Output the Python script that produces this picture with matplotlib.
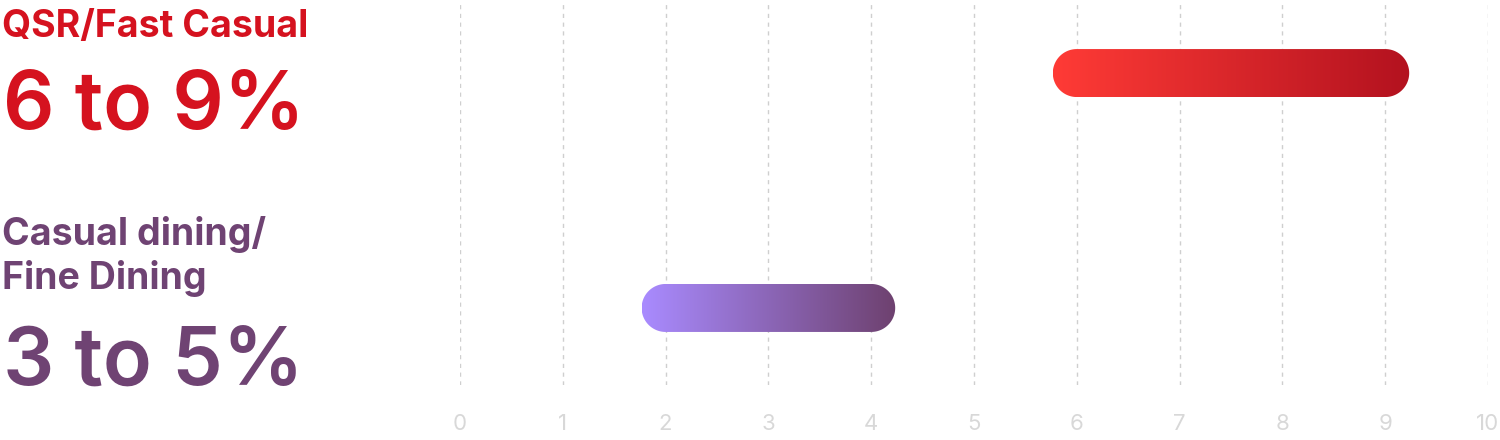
import numpy as np
import matplotlib
matplotlib.use("Agg")
import matplotlib.pyplot as plt
from matplotlib.patches import Polygon
from matplotlib.colors import LinearSegmentedColormap

# Data
segments = ["Casual dining/\nFine Dining", "QSR/Fast Casual"]
range_low = [2, 6]
range_high = [4, 9]
range_text = ["3 to 5%", "6 to 9%"]
ticks = list(range(0, 11))

text_colors = ["#6F4373", "#D5121F"]
grad_colors = [("#A98BFF", "#6E416F"), ("#FF3B36", "#B3121F")]

plt.rcParams["font.family"] = ["Inter", "DejaVu Sans"]

fig = plt.figure(figsize=(15, 4.4), dpi=100)
ax = fig.add_axes([460 / 1500, 1 - 385 / 440, 1028 / 1500, 385 / 440])
ax.set_xlim(0, 10)
ax.set_ylim(-0.328, 1.311)

for s in ax.spines.values():
    s.set_visible(False)
ax.set_yticks([])
ax.set_xticks(ticks)
ax.tick_params(axis="x", length=0, pad=21, labelsize=16, labelcolor="#D8D8D8")
for t in ticks:
    ax.axvline(t, color="#CFCFCF", lw=1, ls=(0, (3, 3.3)), zorder=0)

# pixel scale so the round caps stay circular
fig.canvas.draw()
p0 = ax.transData.transform((0, 0))
p1 = ax.transData.transform((1, 1))
px_x = p1[0] - p0[0]
px_y = p1[1] - p0[1]
bar_h_px = 48
ry = (bar_h_px / 2) / px_y
rx = (bar_h_px / 2) / px_x


def pill(lo, hi, yc):
    a = np.linspace(-np.pi / 2, np.pi / 2, 60)
    right = np.column_stack([hi + rx * np.cos(a), yc + ry * np.sin(a)])
    left = np.column_stack([lo - rx * np.cos(a), yc - ry * np.sin(a)])
    return np.vstack([right, left])


for i, (lo, hi) in enumerate(zip(range_low, range_high)):
    patch = Polygon(pill(lo, hi, i), closed=True, fc="none", ec="none")
    ax.add_patch(patch)
    cmap = LinearSegmentedColormap.from_list(f"g{i}", grad_colors[i])
    grad = np.linspace(0, 1, 256).reshape(1, -1)
    im = ax.imshow(grad, cmap=cmap, aspect="auto",
                   extent=(lo - rx, hi + rx, i - ry, i + ry),
                   zorder=3, interpolation="bicubic")
    im.set_clip_path(patch)

ax.set_xlim(0, 10)
ax.set_ylim(-0.328, 1.311)


def fy(px):
    return 1 - px / 440


fig.text(0.001, fy(37), "QSR/Fast Casual", fontsize=27, fontweight="bold",
         color=text_colors[1], va="baseline", ha="left")
fig.text(0.002, fy(129), range_text[1], fontsize=58, fontweight="semibold",
         color=text_colors[1], va="baseline", ha="left")
fig.text(0.001, fy(245), "Casual dining/", fontsize=27, fontweight="bold",
         color=text_colors[0], va="baseline", ha="left")
fig.text(0.001, fy(289), "Fine Dining", fontsize=27, fontweight="bold",
         color=text_colors[0], va="baseline", ha="left")
fig.text(0.002, fy(385), range_text[0], fontsize=58, fontweight="semibold",
         color=text_colors[0], va="baseline", ha="left")

fig.savefig("out.png", dpi=100)
